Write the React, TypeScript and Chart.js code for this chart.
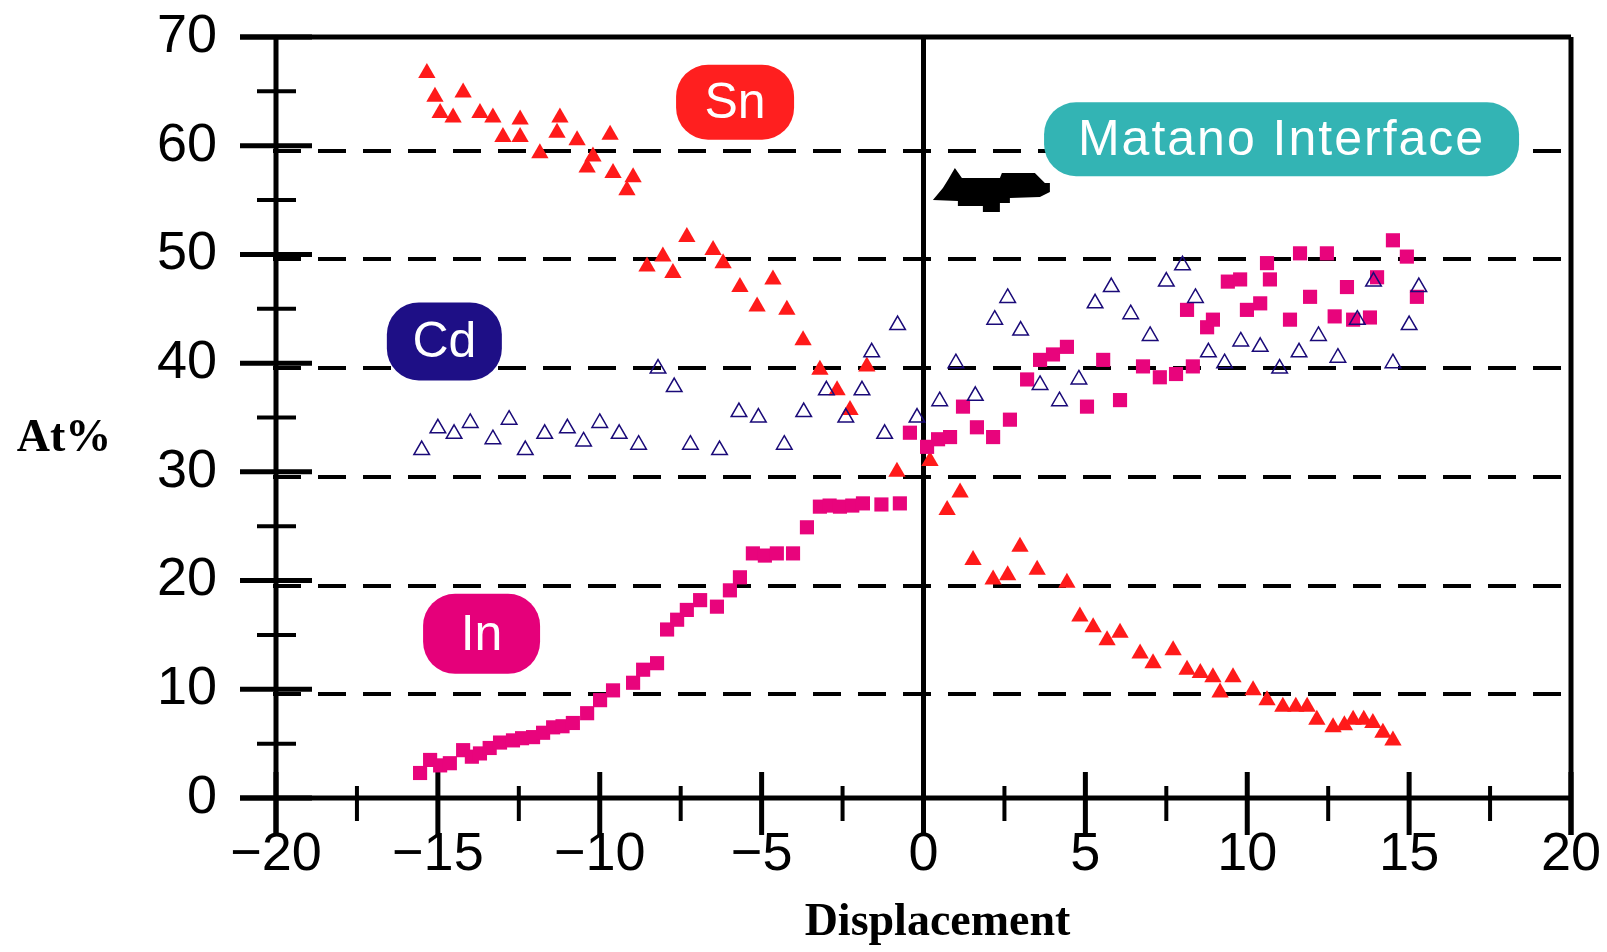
import { useEffect, useRef } from "react";
import { Chart, registerables } from "chart.js";

Chart.register(...registerables);

// ---- data ----
const xTickValues = [-20, -15, -10, -5, 0, 5, 10, 15, 20];
const yTickValues = [0, 10, 20, 30, 40, 50, 60, 70];
const gridValues = [10, 20, 30, 40, 50, 60];

const snX = [-15.34, -15.09, -14.93, -14.53, -14.22, -13.7, -13.3, -12.99, -12.46, -12.46, -11.85, -11.23, -11.32, -10.7, -10.39, -10.21, -9.68, -9.59, -9.16, -8.97,
  -8.54, -8.05, -7.74, -7.31, -6.5, -6.19, -5.67, -5.14, -4.65, -4.22, -3.72, -3.2, -2.67, -2.27, -1.75, -0.82, 0.2, 0.73, 1.13, 1.53, 2.15, 2.6, 2.98, 3.51, 4.43, 4.83,
  5.24, 5.67, 6.07, 6.69, 7.09, 7.71, 8.14, 8.55, 8.94, 9.16, 9.56, 10.18, 10.61, 11.1, 11.5, 11.85, 12.15, 12.65, 13.0, 13.27, 13.6, 13.88, 14.19, 14.5];
const snY = [66.7, 64.5, 63.0, 62.6, 64.9, 63.0, 62.6, 60.8, 62.4, 60.8, 59.3, 62.6, 61.2, 60.5, 58.0, 59.0, 61.0, 57.5, 55.9, 57.1,
  48.9, 49.8, 48.3, 51.6, 50.4, 49.2, 47.0, 45.2, 47.7, 44.9, 42.1, 39.4, 37.5, 35.7, 39.7, 30.0, 31.0, 26.5, 28.1, 21.9, 20.1, 20.5, 23.1, 21.0, 19.8, 16.7,
  15.7, 14.5, 15.2, 13.3, 12.4, 13.6, 11.8, 11.5, 11.1, 9.7, 11.1, 9.9, 9.0, 8.4, 8.4, 8.4, 7.2, 6.5, 6.7, 7.2, 7.2, 6.9, 6.0, 5.3];

const inX = [-15.55, -15.24, -14.93, -14.63, -14.22, -13.95, -13.7, -13.4, -13.08, -12.68, -12.4, -12.06, -11.75, -11.44, -11.15, -10.83, -10.39, -9.99, -9.59, -8.97,
  -8.66, -8.23, -7.92, -7.61, -7.31, -6.9, -6.38, -5.98, -5.67, -5.27, -4.9, -4.53, -4.03, -3.6, -3.2, -2.9, -2.58, -2.2, -1.87, -1.3, -0.73, -0.42, 0.11, 0.45,
  0.82, 1.22, 1.65, 2.15, 2.67, 3.2, 3.6, 4.0, 4.43, 5.05, 5.55, 6.07, 6.78, 7.3, 7.8, 8.14, 8.32, 8.76, 8.94, 9.4, 9.78, 9.99, 10.4, 10.61, 10.7, 11.32,
  11.63, 11.94, 12.46, 12.7, 13.08, 13.27, 13.79, 14.01, 14.5, 14.93, 15.24];
const inY = [2.3, 3.5, 3.0, 3.2, 4.4, 3.8, 4.1, 4.6, 5.1, 5.3, 5.5, 5.6, 6.0, 6.5, 6.6, 6.9, 7.8, 9.0, 9.9, 10.6,
  11.8, 12.4, 15.5, 16.4, 17.3, 18.2, 17.6, 19.1, 20.3, 22.5, 22.3, 22.5, 22.5, 24.9, 26.8, 26.9, 26.8, 26.9, 27.1, 27.0, 27.1, 33.6, 32.3, 33.0,
  33.2, 36.0, 34.1, 33.2, 34.8, 38.5, 40.3, 40.8, 41.5, 36.0, 40.3, 36.6, 39.7, 38.7, 39.0, 44.9, 39.7, 43.3, 44.0, 47.5, 47.7, 44.9, 45.5, 49.2, 47.7, 44.0,
  50.1, 46.1, 50.1, 44.3, 47.0, 44.0, 44.2, 47.9, 51.3, 49.8, 46.1];

const cdX = [-15.5, -15.0, -14.5, -14.0, -13.3, -12.8, -12.3, -11.7, -11.0, -10.5, -10.0, -9.4, -8.8, -8.2, -7.7, -7.2, -6.3, -5.7, -5.1, -4.3, -3.7, -3.0,
  -2.4, -1.9, -1.6, -1.2, -0.8, -0.2, 0.5, 1.0, 1.6, 2.2, 2.6, 3.0, 3.6, 4.2, 4.8, 5.3, 5.8, 6.4, 7.0, 7.5, 8.0, 8.4, 8.8, 9.3, 9.8, 10.4, 11.0, 11.6,
  12.2, 12.8, 13.4, 13.9, 14.5, 15.0, 15.3];
const cdY = [32, 34, 33.5, 34.5, 33, 34.8, 32, 33.5, 34, 32.8, 34.5, 33.5, 32.5, 39.5, 37.8, 32.5, 32, 35.5, 35, 32.5, 35.5, 37.5,
  35, 37.5, 41, 33.5, 43.5, 35, 36.5, 40, 37, 44, 46, 43, 38, 36.5, 38.5, 45.5, 47, 44.5, 42.5, 47.5, 49, 46, 41, 40, 42, 41.5, 39.5, 41,
  42.5, 40.5, 44, 47.5, 40, 43.5, 47];

const labelTexts = ["Sn", "Cd", "In", "Matano Interface"];

const toPoints = (xs: number[], ys: number[]) => xs.map((x, i) => ({ x, y: ys[i] }));

// annotation boxes (value-space centres, pixel sizes)
const boxes = [
  { text: labelTexts[0], x: -5.82, y: 64.0, w: 118, h: 75, color: "#ff1f1f", spacing: 0 },
  { text: labelTexts[1], x: -14.8, y: 42.0, w: 115, h: 78, color: "#1e0f86", spacing: 0 },
  { text: labelTexts[2], x: -13.65, y: 15.1, w: 117, h: 80, color: "#e5007a", spacing: 0 },
  { text: labelTexts[3], x: 11.06, y: 60.6, w: 475, h: 74, color: "#33b4b4", spacing: 2 },
];

const zeroPad = (s: any) => {
  s.paddingTop = 0;
  s.paddingBottom = 0;
  s.paddingLeft = 0;
  s.paddingRight = 0;
};

const framePlugin = {
  id: "frame",
  beforeDatasetsDraw(chart: any) {
    const { ctx, chartArea: a, scales } = chart;
    const x = scales.x;
    const y = scales.y;
    ctx.save();
    ctx.strokeStyle = "#000";
    ctx.lineCap = "butt";
    // dashed gridlines
    ctx.lineWidth = 4;
    ctx.setLineDash([28, 17]);
    for (const v of gridValues) {
      const py = Math.round(y.getPixelForValue(v)) + 5;
      ctx.beginPath();
      ctx.moveTo(a.left - 3, py);
      ctx.lineTo(a.right, py);
      ctx.stroke();
    }
    ctx.setLineDash([]);
    // zero line
    ctx.lineWidth = 5;
    const zx = x.getPixelForValue(0);
    ctx.beginPath();
    ctx.moveTo(zx, a.top);
    ctx.lineTo(zx, a.bottom);
    ctx.stroke();
    // frame
    ctx.beginPath();
    ctx.moveTo(a.left - 36, a.top);
    ctx.lineTo(a.right, a.top);
    ctx.moveTo(a.left - 36, a.bottom);
    ctx.lineTo(a.right, a.bottom);
    ctx.moveTo(a.left, a.top);
    ctx.lineTo(a.left, a.bottom + 37);
    ctx.moveTo(a.right, a.top);
    ctx.lineTo(a.right, a.bottom + 37);
    ctx.stroke();
    // y ticks
    for (const v of yTickValues) {
      const py = y.getPixelForValue(v);
      ctx.lineWidth = 5;
      ctx.beginPath();
      ctx.moveTo(a.left - 36, py);
      ctx.lineTo(a.left + 36, py);
      ctx.stroke();
      if (v < 70) {
        const pm = y.getPixelForValue(v + 5);
        ctx.lineWidth = 4;
        ctx.beginPath();
        ctx.moveTo(a.left - 19, pm);
        ctx.lineTo(a.left + 20, pm);
        ctx.stroke();
      }
    }
    // x ticks
    for (const v of xTickValues) {
      const px = x.getPixelForValue(v);
      ctx.lineWidth = 5;
      ctx.beginPath();
      ctx.moveTo(px, a.bottom - 26);
      ctx.lineTo(px, a.bottom + 37);
      ctx.stroke();
      if (v < 20) {
        const pm = x.getPixelForValue(v + 2.5);
        ctx.lineWidth = 4;
        ctx.beginPath();
        ctx.moveTo(pm, a.bottom - 12);
        ctx.lineTo(pm, a.bottom + 23);
        ctx.stroke();
      }
    }
    ctx.restore();
  },
  afterDatasetsDraw(chart: any) {
    const { ctx, chartArea: a, scales } = chart;
    const x = scales.x;
    const y = scales.y;
    ctx.save();
    // label boxes
    for (const b of boxes) {
      const cx = x.getPixelForValue(b.x);
      const cy = y.getPixelForValue(b.y);
      ctx.fillStyle = b.color;
      ctx.beginPath();
      ctx.roundRect(cx - b.w / 2, cy - b.h / 2, b.w, b.h, Math.min(32, b.h / 2 - 4));
      ctx.fill();
      ctx.fillStyle = "#fff";
      ctx.font = "50px 'Liberation Sans', Arial, sans-serif";
      (ctx as any).letterSpacing = b.spacing + "px";
      ctx.textAlign = "center";
      ctx.textBaseline = "middle";
      ctx.fillText(b.text, cx, cy + 2);
    }
    (ctx as any).letterSpacing = "0px";
    // arrow pointing to Matano interface
    const ax = x.getPixelForValue(0.29);
    const ay = y.getPixelForValue(55.0);
    const shape = [[0, 0], [10, -12], [15, -20], [22, -32], [29, -22], [67, -22], [69, -27], [102, -27], [112, -17], [117, -17], [117, -8], [107, -3], [77, -2], [77, 3], [67, 3], [67, 12], [50, 12], [50, 6], [25, 6], [25, 1]];
    ctx.fillStyle = "#000";
    ctx.beginPath();
    shape.forEach(([dx, dy], i) => (i ? ctx.lineTo(ax + dx, ay + dy) : ctx.moveTo(ax + dx, ay + dy)));
    ctx.closePath();
    ctx.fill();
    // axis titles
    ctx.fillStyle = "#000";
    ctx.font = "bold 46px 'Liberation Serif', 'Times New Roman', serif";
    ctx.textAlign = "center";
    ctx.textBaseline = "alphabetic";
    ctx.fillText("At%", 64, 451);
    ctx.fillText("Displacement", (a.left + a.right) / 2 + 14, 935);
    ctx.restore();
  },
};

export default function App() {
  const ref = useRef<HTMLCanvasElement | null>(null);
  useEffect(() => {
    if (!ref.current) return;
    const tickFont = { family: "'Liberation Sans', Arial, sans-serif", size: 54 };
    const chart = new Chart(ref.current, {
      type: "scatter",
      data: {
        datasets: [
          {
            label: "Cd",
            data: toPoints(cdX, cdY),
            pointStyle: "triangle",
            pointRadius: 9,
            borderWidth: 1.5,
            borderColor: "#1a0a78",
            backgroundColor: "rgba(0,0,0,0)",
          },
          {
            label: "In",
            data: toPoints(inX, inY),
            pointStyle: "rect",
            pointRadius: 10,
            borderWidth: 0,
            backgroundColor: "#e8047c",
          },
          {
            label: "Sn",
            data: toPoints(snX, snY),
            pointStyle: "triangle",
            pointRadius: 10,
            borderWidth: 0,
            backgroundColor: "#ff1a1a",
          },
        ],
      },
      options: {
        responsive: false,
        animation: false,
        devicePixelRatio: 1,
        layout: { padding: { top: 37, right: 36, left: 0, bottom: 0 } },
        plugins: { legend: { display: false }, tooltip: { enabled: false } },
        scales: {
          x: {
            type: "linear",
            min: -20,
            max: 20,
            grid: { display: false, drawTicks: false },
            border: { display: false },
            ticks: {
              stepSize: 5,
              font: tickFont,
              color: "#000",
              padding: 25,
              maxRotation: 0,
              callback: (v: any) => (v < 0 ? "\u2212" + Math.abs(v) : String(v)),
            },
            afterFit: (s: any) => {
              s.height = 154;
              zeroPad(s);
            },
          },
          y: {
            type: "linear",
            min: 0,
            max: 70,
            grid: { display: false, drawTicks: false },
            border: { display: false },
            ticks: { stepSize: 10, font: tickFont, color: "#000", padding: 59 },
            afterFit: (s: any) => {
              s.width = 276;
              zeroPad(s);
            },
          },
        },
      },
      plugins: [framePlugin],
    });
    return () => chart.destroy();
  }, []);
  return (
    <div style={{ position: "absolute", left: 0, top: 0, width: 1607, height: 952, background: "#fff" }}>
      <canvas ref={ref} width={1607} height={952} />
    </div>
  );
}
